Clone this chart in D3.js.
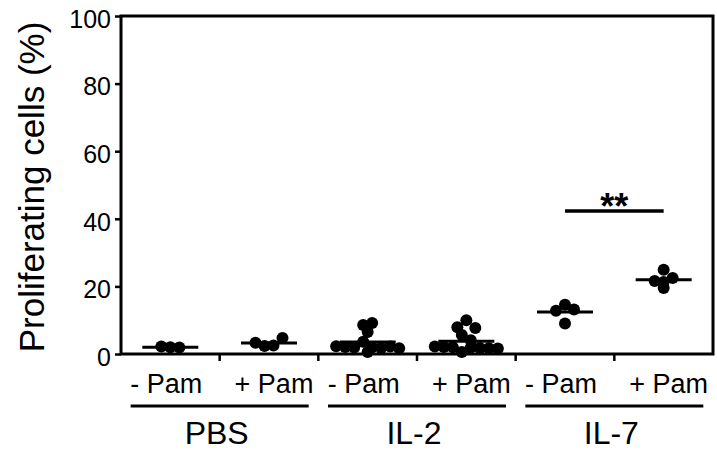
<!DOCTYPE html>
<html>
<head>
<meta charset="utf-8">
<script src="https://cdn.jsdelivr.net/npm/d3@7"></script>
<style>
  html, body { margin: 0; padding: 0; background: #fff; }
  svg { display: block; font-family: "Liberation Sans", Arial, sans-serif; }
</style>
</head>
<body>
<svg id="chart" width="717" height="452"></svg>
<script>
// Condition labels under each column and the three treatment groups
const conditions = ["- Pam", "+ Pam", "- Pam", "+ Pam", "- Pam", "+ Pam"];
const groups = ["PBS", "IL-2", "IL-7"];

// Proliferating cells (%) per animal, one array per column (in recording order)
const pbsMinusPam = [2.2, 2.0, 1.9];
const pbsPlusPam = [3.3, 2.4, 2.5, 4.7];
const il2MinusPam = [8.6, 9.2, 6.5, 2.3, 2.1, 1.9, 3.6, 2.0, 1.8, 2.2, 1.7, 0.6];
const il2PlusPam = [7.9, 10.0, 7.7, 5.6, 4.1, 2.2, 2.1, 2.0, 0.6, 1.9, 1.8, 1.7, 1.6];
const il7MinusPam = [12.8, 14.6, 13.2, 9.0];
const il7PlusPam = [24.9, 21.6, 19.5, 21.3, 22.5];

// Axis ticks
const yTicks = [0, 20, 40, 60, 80, 100];

// Significance bracket between IL-7 - Pam and IL-7 + Pam
const sigPair = [4, 5];
const sigValue = 42.3;
const sigText = "**";

const series = [pbsMinusPam, pbsPlusPam, il2MinusPam, il2PlusPam, il7MinusPam, il7PlusPam];

const svg = d3.select("#chart");
const plotLeft = 121, plotRight = 713, plotTop = 16, plotBottom = 354;
const r = 6;            // dot radius
const rowHeight = 8;    // dots closer than this (px) share a row
const spacing = 9;      // horizontal spacing of dots within a row

const y = d3.scaleLinear().domain([0, 100]).range([plotBottom, plotTop]);
const x = d3.scaleBand().domain(d3.range(conditions.length)).range([plotLeft, plotRight]);
const cx = i => x(i) + x.bandwidth() / 2;

// Plot frame
svg.append("rect")
  .attr("x", plotLeft).attr("y", plotTop)
  .attr("width", plotRight - plotLeft).attr("height", plotBottom - plotTop)
  .attr("fill", "none").attr("stroke", "#000").attr("stroke-width", 3);

// Y axis
const yAxis = svg.append("g")
  .attr("transform", `translate(${plotLeft},0)`)
  .call(d3.axisLeft(y).tickValues(yTicks).tickSize(6).tickPadding(4).tickFormat(d3.format("d")));
yAxis.select(".domain").remove();
yAxis.selectAll("line").attr("stroke", "#000").attr("stroke-width", 2.5);
yAxis.selectAll("text").attr("font-size", 25).attr("fill", "#000")
  .attr("dy", "0.45em")
  .attr("font-family", "Liberation Sans, Arial, sans-serif");

// Ticks between columns on the bottom edge
const boundaries = d3.range(1, conditions.length).map(i => x(i));
svg.append("g").selectAll("line").data(boundaries).join("line")
  .attr("x1", d => d).attr("x2", d => d)
  .attr("y1", plotBottom).attr("y2", plotBottom + 7)
  .attr("stroke", "#000").attr("stroke-width", 2.5);

// Y axis title
svg.append("text")
  .attr("transform", `translate(44,187) rotate(-90)`)
  .attr("text-anchor", "middle")
  .attr("font-size", 35)
  .text("Proliferating cells (%)");

// Condition labels
svg.append("g").selectAll("text").data(conditions).join("text")
  .attr("x", (d, i) => cx(i) + (i % 2 ? 5 : -4))
  .attr("y", 393)
  .attr("text-anchor", "middle")
  .attr("font-size", 27)
  .text(d => d);

// Group underlines and names
const groupCenter = g => (cx(2 * g) + cx(2 * g + 1)) / 2;
svg.append("g").selectAll("line").data(groups).join("line")
  .attr("x1", (d, g) => groupCenter(g) - 89)
  .attr("x2", (d, g) => groupCenter(g) + 89)
  .attr("y1", 406).attr("y2", 406)
  .attr("stroke", "#000").attr("stroke-width", 3);
svg.append("g").selectAll("text").data(groups).join("text")
  .attr("x", (d, g) => groupCenter(g) - 3)
  .attr("y", 444)
  .attr("text-anchor", "middle")
  .attr("font-size", 32)
  .text(d => d);

// Scatter layout: dots at nearly the same height form a row, centred on the column
function scatterRows(values) {
  const pts = values.map((v, k) => ({ v, k, y: y(v), dx: 0 }));
  const order = pts.slice().sort((a, b) => b.v - a.v);
  const rows = [];
  order.forEach(p => {
    const row = rows[rows.length - 1];
    if (row && Math.abs(p.y - row[0].y) < rowHeight) row.push(p);
    else rows.push([p]);
  });
  rows.forEach(row => {
    row.sort((a, b) => a.k - b.k);
    row.forEach((p, j) => { p.dx = (j - (row.length - 1) / 2) * spacing; });
  });
  return pts;
}

series.forEach((vals, i) => {
  const pts = scatterRows(vals);
  const g = svg.append("g");
  g.selectAll("circle").data(pts).join("circle")
    .attr("cx", d => cx(i) + d.dx)
    .attr("cy", d => d.y)
    .attr("r", r)
    .attr("fill", "#000");
  // Mean line
  const m = d3.mean(vals);
  g.append("line")
    .attr("x1", cx(i) - 28).attr("x2", cx(i) + 28)
    .attr("y1", y(m)).attr("y2", y(m))
    .attr("stroke", "#000").attr("stroke-width", 3);
});

// Significance bar
const sy = y(sigValue);
svg.append("line")
  .attr("x1", cx(sigPair[0])).attr("x2", cx(sigPair[1]))
  .attr("y1", sy).attr("y2", sy)
  .attr("stroke", "#000").attr("stroke-width", 3.5);
svg.append("text")
  .attr("x", (cx(sigPair[0]) + cx(sigPair[1])) / 2)
  .attr("y", sy + 8)
  .attr("text-anchor", "middle")
  .attr("font-size", 36)
  .attr("font-weight", "bold")
  .text(sigText);
</script>
</body>
</html>
